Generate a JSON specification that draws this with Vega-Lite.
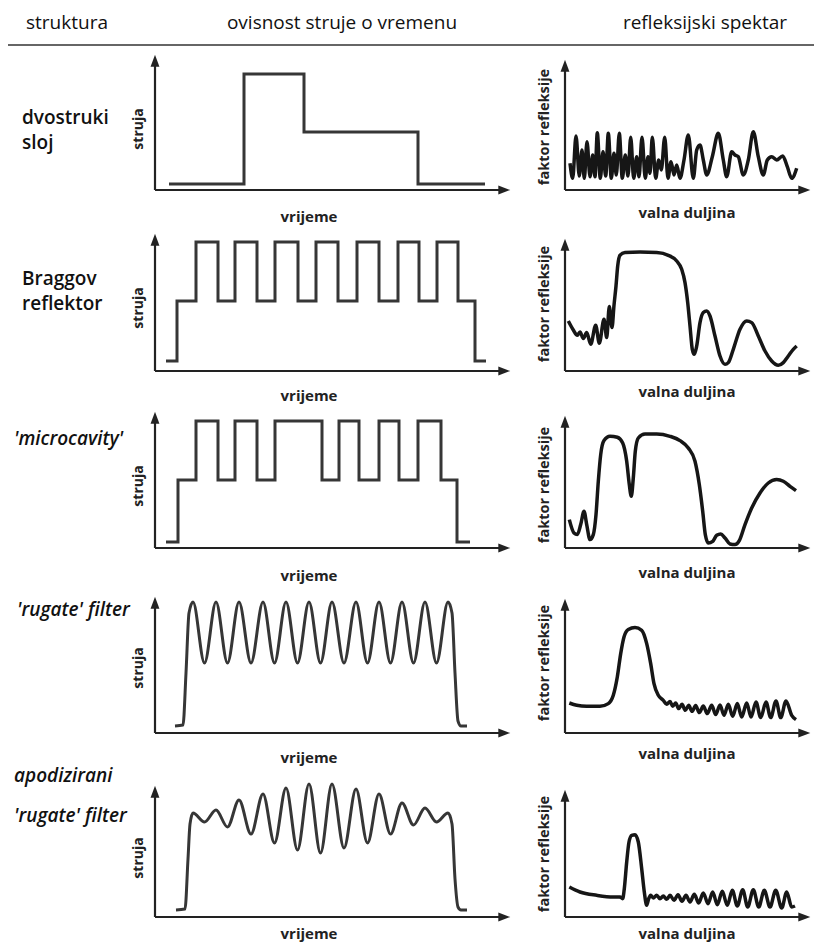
{
"$schema": "https://vega.github.io/schema/vega-lite/v6.json",
"background": "white",
"padding": 0,
"columns": 3,
"spacing": {"row": 0, "column": 55},
"bounds": "flush",
"config": {"font": "Open Sans", "view": {"stroke": null}, "axis": {"disable": true}},
"datasets": {
"cur1": [{"t":14,"i":6},{"t":89,"i":6},{"t":89,"i":116},{"t":149,"i":116},{"t":149,"i":58},{"t":263,"i":58},{"t":263,"i":6},{"t":330,"i":6}],
"cur2": [{"t":11,"i":10},{"t":22,"i":10},{"t":22,"i":70},{"t":41,"i":70},{"t":41,"i":129},{"t":63,"i":129},{"t":63,"i":70},{"t":80,"i":70},{"t":80,"i":129},{"t":102,"i":129},{"t":102,"i":70},{"t":120,"i":70},{"t":120,"i":129},{"t":143,"i":129},{"t":143,"i":70},{"t":161,"i":70},{"t":161,"i":129},{"t":183,"i":129},{"t":183,"i":70},{"t":202,"i":70},{"t":202,"i":129},{"t":224,"i":129},{"t":224,"i":70},{"t":243,"i":70},{"t":243,"i":129},{"t":264,"i":129},{"t":264,"i":70},{"t":282,"i":70},{"t":282,"i":129},{"t":303,"i":129},{"t":303,"i":70},{"t":320,"i":70},{"t":320,"i":10},{"t":331,"i":10}],
"cur3": [{"t":11,"i":6},{"t":23,"i":6},{"t":23,"i":68},{"t":41,"i":68},{"t":41,"i":127},{"t":63,"i":127},{"t":63,"i":68},{"t":80,"i":68},{"t":80,"i":127},{"t":102,"i":127},{"t":102,"i":68},{"t":120,"i":68},{"t":120,"i":127},{"t":167,"i":127},{"t":167,"i":68},{"t":184,"i":68},{"t":184,"i":127},{"t":204,"i":127},{"t":204,"i":68},{"t":224,"i":68},{"t":224,"i":127},{"t":244,"i":127},{"t":244,"i":68},{"t":263,"i":68},{"t":263,"i":127},{"t":286,"i":127},{"t":286,"i":68},{"t":302,"i":68},{"t":302,"i":6},{"t":315,"i":6}],
"cur4": [{"t":20,"i":7},{"t":28,"i":8},{"t":31,"i":60},{"t":34,"i":120},{"t":38,"i":131},{"t":49.5,"i":70},{"t":61,"i":131},{"t":72.5,"i":70},{"t":84,"i":131},{"t":96,"i":70},{"t":108,"i":131},{"t":119.5,"i":70},{"t":131,"i":131},{"t":142.5,"i":70},{"t":154,"i":131},{"t":165.5,"i":70},{"t":177,"i":131},{"t":189,"i":70},{"t":201,"i":131},{"t":212.5,"i":70},{"t":224,"i":131},{"t":235.5,"i":70},{"t":247,"i":131},{"t":258.5,"i":70},{"t":270,"i":131},{"t":281.5,"i":70},{"t":293,"i":131},{"t":297,"i":120},{"t":300,"i":60},{"t":303,"i":12},{"t":306,"i":7},{"t":312,"i":7}],
"cur5": [{"t":21,"i":7},{"t":30,"i":8},{"t":33,"i":58},{"t":35,"i":93},{"t":38,"i":104},{"t":49.5,"i":95},{"t":61,"i":107},{"t":72.5,"i":90},{"t":84,"i":117},{"t":96,"i":83},{"t":108,"i":123},{"t":119.5,"i":74},{"t":131,"i":129},{"t":142.5,"i":67},{"t":154,"i":133},{"t":165.5,"i":64},{"t":177,"i":133},{"t":189,"i":69},{"t":201,"i":128},{"t":212.5,"i":74},{"t":224,"i":123},{"t":235.5,"i":83},{"t":247,"i":114},{"t":258.5,"i":92},{"t":270,"i":109},{"t":281.5,"i":95},{"t":293,"i":104},{"t":297,"i":93},{"t":300,"i":38},{"t":303,"i":10},{"t":306,"i":7},{"t":312,"i":7}],
"spec1": [{"w":5.0,"r":26.7},{"w":7.7,"r":11.7},{"w":11.0,"r":54.0},{"w":14.3,"r":14.0},{"w":17.0,"r":40.0},{"w":19.3,"r":11.7},{"w":22.0,"r":48.3},{"w":25.0,"r":13.3},{"w":27.7,"r":35.0},{"w":30.0,"r":13.3},{"w":32.3,"r":57.3},{"w":35.3,"r":11.7},{"w":38.0,"r":38.3},{"w":40.7,"r":14.0},{"w":43.3,"r":56.7},{"w":46.3,"r":11.7},{"w":49.0,"r":36.7},{"w":51.3,"r":15.0},{"w":54.3,"r":56.7},{"w":57.3,"r":11.7},{"w":60.3,"r":35.0},{"w":63.0,"r":14.0},{"w":65.7,"r":52.7},{"w":68.7,"r":11.7},{"w":71.7,"r":33.3},{"w":74.0,"r":13.3},{"w":77.0,"r":52.7},{"w":80.3,"r":11.7},{"w":83.0,"r":33.3},{"w":85.0,"r":16.7},{"w":87.3,"r":52.7},{"w":90.7,"r":11.7},{"w":93.7,"r":30.0},{"w":96.3,"r":20.0},{"w":99.7,"r":52.7},{"w":103.0,"r":11.7},{"w":106.0,"r":28.3},{"w":109.0,"r":15.0},{"w":111.7,"r":25.0},{"w":115.0,"r":11.7},{"w":119.0,"r":30.0},{"w":123.3,"r":55.0},{"w":128.3,"r":11.7},{"w":131.7,"r":40.0},{"w":135.0,"r":45.0},{"w":138.3,"r":30.0},{"w":141.7,"r":15.0},{"w":147.3,"r":33.3},{"w":153.3,"r":56.7},{"w":158.3,"r":30.0},{"w":161.7,"r":13.3},{"w":166.7,"r":38.3},{"w":170.0,"r":35.0},{"w":173.3,"r":33.3},{"w":178.3,"r":15.0},{"w":183.3,"r":30.0},{"w":188.3,"r":58.3},{"w":193.3,"r":33.3},{"w":198.3,"r":15.0},{"w":202.3,"r":30.0},{"w":206.7,"r":33.3},{"w":211.7,"r":30.0},{"w":217.7,"r":34.0},{"w":222.3,"r":23.3},{"w":226.7,"r":11.7},{"w":231.7,"r":21.7}],
"spec2": [{"w":3.3,"r":50.0},{"w":8.3,"r":41.0},{"w":12.3,"r":35.7},{"w":15.0,"r":39.0},{"w":18.3,"r":32.4},{"w":21.7,"r":38.4},{"w":25.7,"r":26.7},{"w":30.7,"r":45.7},{"w":34.3,"r":27.7},{"w":39.0,"r":51.7},{"w":41.7,"r":33.4},{"w":44.3,"r":64.4},{"w":47.0,"r":43.4},{"w":49.0,"r":65.7},{"w":51.0,"r":85.0},{"w":52.7,"r":105.0},{"w":55.0,"r":115.7},{"w":60.0,"r":118.4},{"w":75.0,"r":119.0},{"w":91.7,"r":118.4},{"w":103.3,"r":115.7},{"w":111.7,"r":110.0},{"w":116.7,"r":101.7},{"w":120.0,"r":88.4},{"w":122.7,"r":68.4},{"w":125.0,"r":45.0},{"w":127.3,"r":21.7},{"w":129.3,"r":16.7},{"w":131.7,"r":25.0},{"w":135.0,"r":48.4},{"w":138.3,"r":58.4},{"w":141.7,"r":60.0},{"w":145.0,"r":55.0},{"w":150.0,"r":35.0},{"w":155.0,"r":15.0},{"w":160.0,"r":6.7},{"w":163.3,"r":8.4},{"w":168.3,"r":21.7},{"w":175.0,"r":41.7},{"w":181.7,"r":50.0},{"w":186.7,"r":48.4},{"w":193.3,"r":35.0},{"w":200.0,"r":20.0},{"w":206.7,"r":10.0},{"w":213.3,"r":5.7},{"w":218.3,"r":8.4},{"w":223.3,"r":15.0},{"w":228.3,"r":21.7},{"w":231.7,"r":25.0}],
"spec3": [{"w":4.3,"r":28.4},{"w":9.0,"r":15.0},{"w":12.3,"r":13.4},{"w":15.7,"r":23.4},{"w":19.0,"r":36.7},{"w":21.7,"r":23.4},{"w":25.0,"r":8.4},{"w":28.3,"r":13.4},{"w":31.0,"r":33.4},{"w":33.3,"r":66.7},{"w":35.7,"r":93.4},{"w":39.0,"r":107.4},{"w":45.0,"r":111.7},{"w":52.3,"r":110.7},{"w":57.7,"r":105.0},{"w":61.7,"r":86.7},{"w":64.3,"r":63.4},{"w":66.3,"r":51.7},{"w":68.3,"r":70.0},{"w":70.3,"r":96.7},{"w":73.3,"r":110.0},{"w":80.0,"r":114.0},{"w":91.7,"r":114.0},{"w":105.0,"r":111.7},{"w":115.0,"r":107.4},{"w":123.3,"r":100.0},{"w":130.0,"r":86.7},{"w":134.3,"r":63.4},{"w":137.7,"r":36.7},{"w":140.3,"r":13.4},{"w":143.3,"r":5.0},{"w":147.7,"r":6.7},{"w":151.7,"r":12.7},{"w":155.7,"r":14.0},{"w":160.0,"r":10.0},{"w":165.0,"r":4.0},{"w":170.0,"r":3.4},{"w":174.3,"r":7.4},{"w":180.0,"r":23.4},{"w":186.7,"r":40.0},{"w":195.0,"r":55.0},{"w":203.3,"r":65.0},{"w":211.7,"r":68.4},{"w":218.3,"r":66.7},{"w":225.0,"r":61.7},{"w":231.0,"r":57.4}],
"spec4": [{"w":4.3,"r":30.0},{"w":11.7,"r":27.7},{"w":21.7,"r":26.7},{"w":35.0,"r":26.7},{"w":43.3,"r":29.4},{"w":48.3,"r":37.7},{"w":52.3,"r":56.0},{"w":55.7,"r":79.4},{"w":59.0,"r":96.0},{"w":63.3,"r":103.4},{"w":70.0,"r":105.4},{"w":76.7,"r":102.7},{"w":81.7,"r":89.4},{"w":85.7,"r":69.4},{"w":89.0,"r":49.4},{"w":93.3,"r":37.7},{"w":98.3,"r":32.7},{"w":101.7,"r":28.7},{"w":105.0,"r":31.4},{"w":107.7,"r":26.7},{"w":110.7,"r":30.0},{"w":113.7,"r":24.4},{"w":117.0,"r":28.7},{"w":120.3,"r":22.7},{"w":123.7,"r":27.7},{"w":127.0,"r":21.7},{"w":130.7,"r":27.4},{"w":134.3,"r":20.4},{"w":138.3,"r":27.0},{"w":142.3,"r":19.4},{"w":146.7,"r":27.7},{"w":150.7,"r":18.4},{"w":155.0,"r":28.0},{"w":159.0,"r":17.7},{"w":163.3,"r":28.7},{"w":167.7,"r":16.7},{"w":172.3,"r":29.4},{"w":176.7,"r":16.0},{"w":181.7,"r":30.0},{"w":186.0,"r":16.0},{"w":191.0,"r":31.0},{"w":195.7,"r":15.4},{"w":201.0,"r":31.0},{"w":205.7,"r":15.4},{"w":211.0,"r":32.0},{"w":215.7,"r":15.4},{"w":221.0,"r":32.0},{"w":226.7,"r":17.7},{"w":231.0,"r":13.4}],
"spec5": [{"w":4.3,"r":30.0},{"w":15.0,"r":25.0},{"w":31.7,"r":21.7},{"w":48.3,"r":20.0},{"w":55.0,"r":20.0},{"w":57.7,"r":18.3},{"w":59.3,"r":28.3},{"w":61.7,"r":55.0},{"w":64.0,"r":75.0},{"w":66.7,"r":81.7},{"w":70.0,"r":82.3},{"w":73.3,"r":75.0},{"w":76.7,"r":48.3},{"w":79.3,"r":25.0},{"w":81.7,"r":11.7},{"w":83.7,"r":18.3},{"w":85.7,"r":21.7},{"w":88.3,"r":19.0},{"w":91.7,"r":21.7},{"w":95.0,"r":18.3},{"w":98.3,"r":21.0},{"w":101.7,"r":17.7},{"w":105.0,"r":21.7},{"w":109.0,"r":16.7},{"w":113.0,"r":22.3},{"w":117.0,"r":15.7},{"w":121.0,"r":21.7},{"w":125.0,"r":15.0},{"w":129.3,"r":22.7},{"w":133.7,"r":14.0},{"w":138.3,"r":24.0},{"w":143.0,"r":13.3},{"w":147.7,"r":25.0},{"w":152.3,"r":12.3},{"w":157.3,"r":25.7},{"w":162.3,"r":11.7},{"w":167.3,"r":26.7},{"w":172.3,"r":11.0},{"w":177.7,"r":27.3},{"w":182.7,"r":10.0},{"w":188.3,"r":27.3},{"w":193.7,"r":10.0},{"w":199.3,"r":26.7},{"w":205.0,"r":10.0},{"w":210.7,"r":26.7},{"w":216.7,"r":9.0},{"w":221.7,"r":25.0},{"w":226.7,"r":10.0},{"w":230.0,"r":11.0}]
},
"concat": [
{"width":100,"height":45,"data":{"values":[{"h":"struktura"}]},"layer":[
 {"mark":{"type":"text","fontSize":19,"align":"center","baseline":"middle","color":"#111"},"encoding":{"text":{"field":"h"},"x":{"datum":67,"scale":{"domain":[0,100],"nice":false},"axis":null},"y":{"datum":22,"scale":{"domain":[0,45],"nice":false},"axis":null}}},
 {"mark":{"type":"rule","color":"#333","strokeWidth":1.5},"encoding":{"x":{"datum":8},"x2":{"datum":814},"y":{"datum":0}}}]},
{"width":355,"height":45,"data":{"values":[{"h":"ovisnost struje o vremenu"}]},"mark":{"type":"text","fontSize":19,"align":"center","baseline":"middle","color":"#111"},"encoding":{"text":{"field":"h"},"x":{"datum":187,"scale":{"domain":[0,355],"nice":false},"axis":null},"y":{"datum":22,"scale":{"domain":[0,45],"nice":false},"axis":null}}},
{"width":245,"height":45,"data":{"values":[{"h":"refleksijski spektar"}]},"mark":{"type":"text","fontSize":19,"align":"center","baseline":"middle","color":"#111"},"encoding":{"text":{"field":"h"},"x":{"datum":140,"scale":{"domain":[0,245],"nice":false},"axis":null},"y":{"datum":22,"scale":{"domain":[0,45],"nice":false},"axis":null}}},

{"width":100,"height":145,"data":{"values":[{"label":"dvostruki\nsloj"}]},"mark":{"type":"text","lineBreak":"\n","align":"left","baseline":"alphabetic","fontSize":19,"fontWeight":600,"lineHeight":25,"color":"#111"},"encoding":{"text":{"field":"label"},"x":{"datum":22,"scale":{"domain":[0,100],"nice":false},"axis":null},"y":{"datum":66,"scale":{"domain":[0,145],"nice":false},"axis":null}}},
{"width":355,"height":145,"layer":[
 {"data":{"name":"cur1"},"mark":{"type":"line","color":"#363636","strokeWidth":3},"encoding":{"x":{"field":"t","type":"quantitative","scale":{"domain":[0,355],"nice":false,"zero":false},"axis":null},"y":{"field":"i","type":"quantitative","scale":{"domain":[0,145],"nice":false,"zero":false},"axis":null}}},
 {"data":{"values":[{}]},"mark":{"type":"rule","color":"#222","strokeWidth":2.2},"encoding":{"x":{"datum":0},"y":{"datum":0},"y2":{"datum":130}}},
 {"data":{"values":[{}]},"mark":{"type":"rule","color":"#222","strokeWidth":2.2},"encoding":{"x":{"datum":0},"x2":{"datum":350},"y":{"datum":0}}},
 {"data":{"values":[{}]},"mark":{"type":"point","shape":"M0,-1L0.7,0.9L-0.7,0.9Z","filled":true,"size":160,"color":"#222","opacity":1},"encoding":{"x":{"datum":0},"y":{"datum":129}}},
 {"data":{"values":[{}]},"mark":{"type":"point","shape":"M1,0L-0.9,0.7L-0.9,-0.7Z","filled":true,"size":160,"color":"#222","opacity":1},"encoding":{"x":{"datum":349},"y":{"datum":0}}},
 {"data":{"values":[{}]},"mark":{"type":"text","text":"struja","angle":270,"fontWeight":"bold","fontSize":14,"align":"center","baseline":"middle","color":"#222"},"encoding":{"x":{"datum":-16},"y":{"datum":61}}},
 {"data":{"values":[{}]},"mark":{"type":"text","text":"vrijeme","fontWeight":"bold","fontSize":15,"align":"center","baseline":"middle","color":"#222"},"encoding":{"x":{"datum":154},"y":{"datum":-27}}}]},
{"width":245,"height":145,"layer":[
 {"data":{"name":"spec1"},"mark":{"type":"line","interpolate":"monotone","color":"#161616","strokeWidth":3.5,"strokeJoin":"round"},"encoding":{"x":{"field":"w","type":"quantitative","scale":{"domain":[0,245],"nice":false,"zero":false},"axis":null},"y":{"field":"r","type":"quantitative","scale":{"domain":[0,145],"nice":false,"zero":false},"axis":null}}},
 {"data":{"values":[{}]},"mark":{"type":"rule","color":"#222","strokeWidth":2.2},"encoding":{"x":{"datum":0},"y":{"datum":0},"y2":{"datum":125}}},
 {"data":{"values":[{}]},"mark":{"type":"rule","color":"#222","strokeWidth":2.2},"encoding":{"x":{"datum":0},"x2":{"datum":240},"y":{"datum":0}}},
 {"data":{"values":[{}]},"mark":{"type":"point","shape":"M0,-1L0.7,0.9L-0.7,0.9Z","filled":true,"size":160,"color":"#222","opacity":1},"encoding":{"x":{"datum":0},"y":{"datum":124}}},
 {"data":{"values":[{}]},"mark":{"type":"point","shape":"M1,0L-0.9,0.7L-0.9,-0.7Z","filled":true,"size":160,"color":"#222","opacity":1},"encoding":{"x":{"datum":239},"y":{"datum":0}}},
 {"data":{"values":[{}]},"mark":{"type":"text","text":"faktor refleksije","angle":270,"fontWeight":"bold","fontSize":14.5,"align":"center","baseline":"middle","color":"#222"},"encoding":{"x":{"datum":-20},"y":{"datum":63}}},
 {"data":{"values":[{}]},"mark":{"type":"text","text":"valna duljina","fontWeight":"bold","fontSize":15,"align":"center","baseline":"middle","color":"#222"},"encoding":{"x":{"datum":122},"y":{"datum":-23}}}]},

{"width":100,"height":181,"data":{"values":[{"label":"Braggov\nreflektor"}]},"mark":{"type":"text","lineBreak":"\n","align":"left","baseline":"alphabetic","fontSize":19,"fontWeight":600,"lineHeight":25,"color":"#111"},"encoding":{"text":{"field":"label"},"x":{"datum":22,"scale":{"domain":[0,100],"nice":false},"axis":null},"y":{"datum":86,"scale":{"domain":[0,181],"nice":false},"axis":null}}},
{"width":355,"height":181,"layer":[
 {"data":{"name":"cur2"},"mark":{"type":"line","color":"#363636","strokeWidth":3},"encoding":{"x":{"field":"t","type":"quantitative","scale":{"domain":[0,355],"nice":false,"zero":false},"axis":null},"y":{"field":"i","type":"quantitative","scale":{"domain":[0,181],"nice":false,"zero":false},"axis":null}}},
 {"data":{"values":[{}]},"mark":{"type":"rule","color":"#222","strokeWidth":2.2},"encoding":{"x":{"datum":0},"y":{"datum":0},"y2":{"datum":132}}},
 {"data":{"values":[{}]},"mark":{"type":"rule","color":"#222","strokeWidth":2.2},"encoding":{"x":{"datum":0},"x2":{"datum":350},"y":{"datum":0}}},
 {"data":{"values":[{}]},"mark":{"type":"point","shape":"M0,-1L0.7,0.9L-0.7,0.9Z","filled":true,"size":160,"color":"#222","opacity":1},"encoding":{"x":{"datum":0},"y":{"datum":131}}},
 {"data":{"values":[{}]},"mark":{"type":"point","shape":"M1,0L-0.9,0.7L-0.9,-0.7Z","filled":true,"size":160,"color":"#222","opacity":1},"encoding":{"x":{"datum":349},"y":{"datum":0}}},
 {"data":{"values":[{}]},"mark":{"type":"text","text":"struja","angle":270,"fontWeight":"bold","fontSize":14,"align":"center","baseline":"middle","color":"#222"},"encoding":{"x":{"datum":-16},"y":{"datum":63}}},
 {"data":{"values":[{}]},"mark":{"type":"text","text":"vrijeme","fontWeight":"bold","fontSize":15,"align":"center","baseline":"middle","color":"#222"},"encoding":{"x":{"datum":154},"y":{"datum":-25}}}]},
{"width":245,"height":181,"layer":[
 {"data":{"name":"spec2"},"mark":{"type":"line","interpolate":"monotone","color":"#161616","strokeWidth":3.5,"strokeJoin":"round"},"encoding":{"x":{"field":"w","type":"quantitative","scale":{"domain":[0,245],"nice":false,"zero":false},"axis":null},"y":{"field":"r","type":"quantitative","scale":{"domain":[0,181],"nice":false,"zero":false},"axis":null}}},
 {"data":{"values":[{}]},"mark":{"type":"rule","color":"#222","strokeWidth":2.2},"encoding":{"x":{"datum":0},"y":{"datum":0},"y2":{"datum":127}}},
 {"data":{"values":[{}]},"mark":{"type":"rule","color":"#222","strokeWidth":2.2},"encoding":{"x":{"datum":0},"x2":{"datum":240},"y":{"datum":0}}},
 {"data":{"values":[{}]},"mark":{"type":"point","shape":"M0,-1L0.7,0.9L-0.7,0.9Z","filled":true,"size":160,"color":"#222","opacity":1},"encoding":{"x":{"datum":0},"y":{"datum":126}}},
 {"data":{"values":[{}]},"mark":{"type":"point","shape":"M1,0L-0.9,0.7L-0.9,-0.7Z","filled":true,"size":160,"color":"#222","opacity":1},"encoding":{"x":{"datum":239},"y":{"datum":0}}},
 {"data":{"values":[{}]},"mark":{"type":"text","text":"faktor refleksije","angle":270,"fontWeight":"bold","fontSize":14.5,"align":"center","baseline":"middle","color":"#222"},"encoding":{"x":{"datum":-20},"y":{"datum":67}}},
 {"data":{"values":[{}]},"mark":{"type":"text","text":"valna duljina","fontWeight":"bold","fontSize":15,"align":"center","baseline":"middle","color":"#222"},"encoding":{"x":{"datum":122},"y":{"datum":-21}}}]},

{"width":100,"height":177,"data":{"values":[{"label":"'microcavity'"}]},"mark":{"type":"text","align":"left","baseline":"alphabetic","fontSize":19,"fontWeight":600,"fontStyle":"italic","color":"#111"},"encoding":{"text":{"field":"label"},"x":{"datum":14,"scale":{"domain":[0,100],"nice":false},"axis":null},"y":{"datum":103,"scale":{"domain":[0,177],"nice":false},"axis":null}}},
{"width":355,"height":177,"layer":[
 {"data":{"name":"cur3"},"mark":{"type":"line","color":"#363636","strokeWidth":3},"encoding":{"x":{"field":"t","type":"quantitative","scale":{"domain":[0,355],"nice":false,"zero":false},"axis":null},"y":{"field":"i","type":"quantitative","scale":{"domain":[0,177],"nice":false,"zero":false},"axis":null}}},
 {"data":{"values":[{}]},"mark":{"type":"rule","color":"#222","strokeWidth":2.2},"encoding":{"x":{"datum":0},"y":{"datum":0},"y2":{"datum":131}}},
 {"data":{"values":[{}]},"mark":{"type":"rule","color":"#222","strokeWidth":2.2},"encoding":{"x":{"datum":0},"x2":{"datum":350},"y":{"datum":0}}},
 {"data":{"values":[{}]},"mark":{"type":"point","shape":"M0,-1L0.7,0.9L-0.7,0.9Z","filled":true,"size":160,"color":"#222","opacity":1},"encoding":{"x":{"datum":0},"y":{"datum":130}}},
 {"data":{"values":[{}]},"mark":{"type":"point","shape":"M1,0L-0.9,0.7L-0.9,-0.7Z","filled":true,"size":160,"color":"#222","opacity":1},"encoding":{"x":{"datum":349},"y":{"datum":0}}},
 {"data":{"values":[{}]},"mark":{"type":"text","text":"struja","angle":270,"fontWeight":"bold","fontSize":14,"align":"center","baseline":"middle","color":"#222"},"encoding":{"x":{"datum":-16},"y":{"datum":62}}},
 {"data":{"values":[{}]},"mark":{"type":"text","text":"vrijeme","fontWeight":"bold","fontSize":15,"align":"center","baseline":"middle","color":"#222"},"encoding":{"x":{"datum":154},"y":{"datum":-28}}}]},
{"width":245,"height":177,"layer":[
 {"data":{"name":"spec3"},"mark":{"type":"line","interpolate":"monotone","color":"#161616","strokeWidth":3.5,"strokeJoin":"round"},"encoding":{"x":{"field":"w","type":"quantitative","scale":{"domain":[0,245],"nice":false,"zero":false},"axis":null},"y":{"field":"r","type":"quantitative","scale":{"domain":[0,177],"nice":false,"zero":false},"axis":null}}},
 {"data":{"values":[{}]},"mark":{"type":"rule","color":"#222","strokeWidth":2.2},"encoding":{"x":{"datum":0},"y":{"datum":0},"y2":{"datum":127}}},
 {"data":{"values":[{}]},"mark":{"type":"rule","color":"#222","strokeWidth":2.2},"encoding":{"x":{"datum":0},"x2":{"datum":240},"y":{"datum":0}}},
 {"data":{"values":[{}]},"mark":{"type":"point","shape":"M0,-1L0.7,0.9L-0.7,0.9Z","filled":true,"size":160,"color":"#222","opacity":1},"encoding":{"x":{"datum":0},"y":{"datum":126}}},
 {"data":{"values":[{}]},"mark":{"type":"point","shape":"M1,0L-0.9,0.7L-0.9,-0.7Z","filled":true,"size":160,"color":"#222","opacity":1},"encoding":{"x":{"datum":239},"y":{"datum":0}}},
 {"data":{"values":[{}]},"mark":{"type":"text","text":"faktor refleksije","angle":270,"fontWeight":"bold","fontSize":14.5,"align":"center","baseline":"middle","color":"#222"},"encoding":{"x":{"datum":-20},"y":{"datum":63}}},
 {"data":{"values":[{}]},"mark":{"type":"text","text":"valna duljina","fontWeight":"bold","fontSize":15,"align":"center","baseline":"middle","color":"#222"},"encoding":{"x":{"datum":122},"y":{"datum":-25}}}]},

{"width":100,"height":185,"data":{"values":[{"label":"'rugate' filter"}]},"mark":{"type":"text","align":"left","baseline":"alphabetic","fontSize":19,"fontWeight":600,"fontStyle":"italic","color":"#111"},"encoding":{"text":{"field":"label"},"x":{"datum":17,"scale":{"domain":[0,100],"nice":false},"axis":null},"y":{"datum":117,"scale":{"domain":[0,185],"nice":false},"axis":null}}},
{"width":355,"height":185,"layer":[
 {"data":{"name":"cur4"},"mark":{"type":"line","interpolate":"monotone","color":"#363636","strokeWidth":3},"encoding":{"x":{"field":"t","type":"quantitative","scale":{"domain":[0,355],"nice":false,"zero":false},"axis":null},"y":{"field":"i","type":"quantitative","scale":{"domain":[0,185],"nice":false,"zero":false},"axis":null}}},
 {"data":{"values":[{}]},"mark":{"type":"rule","color":"#222","strokeWidth":2.2},"encoding":{"x":{"datum":0},"y":{"datum":0},"y2":{"datum":131}}},
 {"data":{"values":[{}]},"mark":{"type":"rule","color":"#222","strokeWidth":2.2},"encoding":{"x":{"datum":0},"x2":{"datum":350},"y":{"datum":0}}},
 {"data":{"values":[{}]},"mark":{"type":"point","shape":"M0,-1L0.7,0.9L-0.7,0.9Z","filled":true,"size":160,"color":"#222","opacity":1},"encoding":{"x":{"datum":0},"y":{"datum":130}}},
 {"data":{"values":[{}]},"mark":{"type":"point","shape":"M1,0L-0.9,0.7L-0.9,-0.7Z","filled":true,"size":160,"color":"#222","opacity":1},"encoding":{"x":{"datum":349},"y":{"datum":0}}},
 {"data":{"values":[{}]},"mark":{"type":"text","text":"struja","angle":270,"fontWeight":"bold","fontSize":14,"align":"center","baseline":"middle","color":"#222"},"encoding":{"x":{"datum":-16},"y":{"datum":65}}},
 {"data":{"values":[{}]},"mark":{"type":"text","text":"vrijeme","fontWeight":"bold","fontSize":15,"align":"center","baseline":"middle","color":"#222"},"encoding":{"x":{"datum":154},"y":{"datum":-25}}}]},
{"width":245,"height":185,"layer":[
 {"data":{"name":"spec4"},"mark":{"type":"line","interpolate":"monotone","color":"#161616","strokeWidth":3.5,"strokeJoin":"round"},"encoding":{"x":{"field":"w","type":"quantitative","scale":{"domain":[0,245],"nice":false,"zero":false},"axis":null},"y":{"field":"r","type":"quantitative","scale":{"domain":[0,185],"nice":false,"zero":false},"axis":null}}},
 {"data":{"values":[{}]},"mark":{"type":"rule","color":"#222","strokeWidth":2.2},"encoding":{"x":{"datum":0},"y":{"datum":0},"y2":{"datum":129}}},
 {"data":{"values":[{}]},"mark":{"type":"rule","color":"#222","strokeWidth":2.2},"encoding":{"x":{"datum":0},"x2":{"datum":240},"y":{"datum":0}}},
 {"data":{"values":[{}]},"mark":{"type":"point","shape":"M0,-1L0.7,0.9L-0.7,0.9Z","filled":true,"size":160,"color":"#222","opacity":1},"encoding":{"x":{"datum":0},"y":{"datum":128}}},
 {"data":{"values":[{}]},"mark":{"type":"point","shape":"M1,0L-0.9,0.7L-0.9,-0.7Z","filled":true,"size":160,"color":"#222","opacity":1},"encoding":{"x":{"datum":239},"y":{"datum":0}}},
 {"data":{"values":[{}]},"mark":{"type":"text","text":"faktor refleksije","angle":270,"fontWeight":"bold","fontSize":14.5,"align":"center","baseline":"middle","color":"#222"},"encoding":{"x":{"datum":-20},"y":{"datum":70}}},
 {"data":{"values":[{}]},"mark":{"type":"text","text":"valna duljina","fontWeight":"bold","fontSize":15,"align":"center","baseline":"middle","color":"#222"},"encoding":{"x":{"datum":122},"y":{"datum":-21}}}]},

{"width":100,"height":184,"data":{"values":[{"label":"apodizirani\n'rugate' filter"}]},"mark":{"type":"text","lineBreak":"\n","align":"left","baseline":"alphabetic","fontSize":19,"fontWeight":600,"fontStyle":"italic","lineHeight":40,"color":"#111"},"encoding":{"text":{"field":"label"},"x":{"datum":14,"scale":{"domain":[0,100],"nice":false},"axis":null},"y":{"datum":135,"scale":{"domain":[0,184],"nice":false},"axis":null}}},
{"width":355,"height":184,"layer":[
 {"data":{"name":"cur5"},"mark":{"type":"line","interpolate":"monotone","color":"#363636","strokeWidth":3},"encoding":{"x":{"field":"t","type":"quantitative","scale":{"domain":[0,355],"nice":false,"zero":false},"axis":null},"y":{"field":"i","type":"quantitative","scale":{"domain":[0,184],"nice":false,"zero":false},"axis":null}}},
 {"data":{"values":[{}]},"mark":{"type":"rule","color":"#222","strokeWidth":2.2},"encoding":{"x":{"datum":0},"y":{"datum":0},"y2":{"datum":126}}},
 {"data":{"values":[{}]},"mark":{"type":"rule","color":"#222","strokeWidth":2.2},"encoding":{"x":{"datum":0},"x2":{"datum":350},"y":{"datum":0}}},
 {"data":{"values":[{}]},"mark":{"type":"point","shape":"M0,-1L0.7,0.9L-0.7,0.9Z","filled":true,"size":160,"color":"#222","opacity":1},"encoding":{"x":{"datum":0},"y":{"datum":125}}},
 {"data":{"values":[{}]},"mark":{"type":"point","shape":"M1,0L-0.9,0.7L-0.9,-0.7Z","filled":true,"size":160,"color":"#222","opacity":1},"encoding":{"x":{"datum":349},"y":{"datum":0}}},
 {"data":{"values":[{}]},"mark":{"type":"text","text":"struja","angle":270,"fontWeight":"bold","fontSize":14,"align":"center","baseline":"middle","color":"#222"},"encoding":{"x":{"datum":-16},"y":{"datum":59}}},
 {"data":{"values":[{}]},"mark":{"type":"text","text":"vrijeme","fontWeight":"bold","fontSize":15,"align":"center","baseline":"middle","color":"#222"},"encoding":{"x":{"datum":154},"y":{"datum":-17}}}]},
{"width":245,"height":184,"layer":[
 {"data":{"name":"spec5"},"mark":{"type":"line","interpolate":"monotone","color":"#161616","strokeWidth":3.5,"strokeJoin":"round"},"encoding":{"x":{"field":"w","type":"quantitative","scale":{"domain":[0,245],"nice":false,"zero":false},"axis":null},"y":{"field":"r","type":"quantitative","scale":{"domain":[0,184],"nice":false,"zero":false},"axis":null}}},
 {"data":{"values":[{}]},"mark":{"type":"rule","color":"#222","strokeWidth":2.2},"encoding":{"x":{"datum":0},"y":{"datum":0},"y2":{"datum":122}}},
 {"data":{"values":[{}]},"mark":{"type":"rule","color":"#222","strokeWidth":2.2},"encoding":{"x":{"datum":0},"x2":{"datum":240},"y":{"datum":0}}},
 {"data":{"values":[{}]},"mark":{"type":"point","shape":"M0,-1L0.7,0.9L-0.7,0.9Z","filled":true,"size":160,"color":"#222","opacity":1},"encoding":{"x":{"datum":0},"y":{"datum":121}}},
 {"data":{"values":[{}]},"mark":{"type":"point","shape":"M1,0L-0.9,0.7L-0.9,-0.7Z","filled":true,"size":160,"color":"#222","opacity":1},"encoding":{"x":{"datum":239},"y":{"datum":0}}},
 {"data":{"values":[{}]},"mark":{"type":"text","text":"faktor refleksije","angle":270,"fontWeight":"bold","fontSize":14.5,"align":"center","baseline":"middle","color":"#222"},"encoding":{"x":{"datum":-20},"y":{"datum":63}}},
 {"data":{"values":[{}]},"mark":{"type":"text","text":"valna duljina","fontWeight":"bold","fontSize":15,"align":"center","baseline":"middle","color":"#222"},"encoding":{"x":{"datum":122},"y":{"datum":-17}}}]}
]
}
